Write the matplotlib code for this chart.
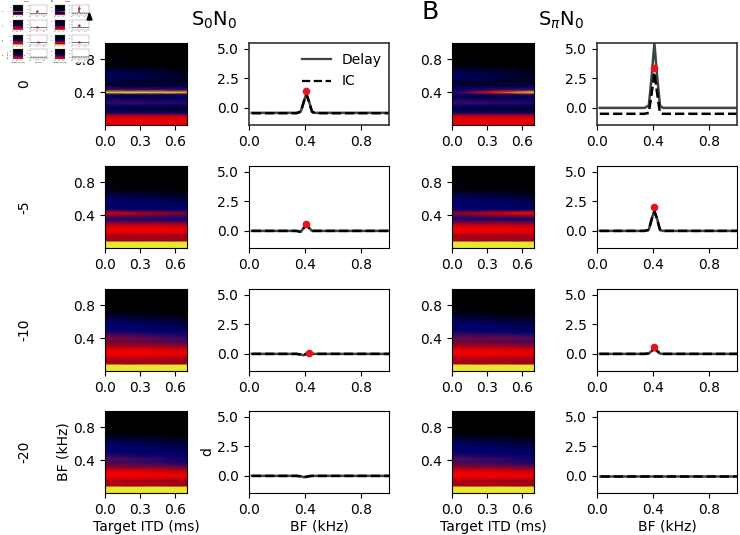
import matplotlib
matplotlib.use('Agg')
import matplotlib.pyplot as plt
import numpy as np
from matplotlib.colors import LinearSegmentedColormap
from matplotlib.patches import Polygon, Rectangle

# heatmap grids
bf_rows = [0.0, 0.04, 0.075, 0.09, 0.12, 0.15, 0.19, 0.23, 0.27, 0.31, 0.35, 0.375, 0.40, 0.43, 0.47, 0.51, 0.56, 0.62, 0.7, 0.8, 1.0]
itd_cols = [0.0, 0.35, 0.7]

# each row is one BF, columns are the ITDs above
s0_0 = [[.74, .74, .74], [.76, .76, .76], [.76, .76, .76], [.72, .72, .72], [.62, .62, .60], [.25, .25, .22],
        [.12, .10, .08], [.20, .16, .14], [.36, .34, .30], [.28, .24, .24], [.15, .10, .15], [.25, .25, .25],
        [.98, .98, .94], [.42, .42, .38], [.16, .14, .18], [.08, .06, .08], [.14, .12, .06], [.19, .14, .06],
        [.05, .03, .01], [.01, 0, 0], [0, 0, 0]]
s0_5 = [[1, 1, 1], [1, 1, 1], [1, 1, 1], [.58, .58, .56], [.62, .62, .60], [.58, .56, .55],
        [.76, .76, .74], [.78, .78, .76], [.72, .72, .68], [.50, .50, .48], [.30, .28, .26], [.38, .36, .30],
        [.52, .46, .34], [.76, .62, .50], [.22, .20, .22], [.20, .18, .17], [.20, .19, .15], [.17, .14, .08],
        [.04, .03, .01], [0, 0, 0], [0, 0, 0]]
s0_10 = [[1, 1, 1], [1, 1, 1], [1, 1, 1], [.58, .58, .56], [.62, .62, .60], [.60, .58, .56],
         [.76, .76, .74], [.78, .78, .76], [.72, .72, .68], [.60, .58, .54], [.50, .46, .40], [.46, .42, .34],
         [.52, .48, .34], [.44, .38, .30], [.30, .24, .22], [.21, .19, .17], [.20, .18, .14], [.17, .13, .07],
         [.04, .02, .01], [0, 0, 0], [0, 0, 0]]
s0_20 = [[1, 1, 1], [1, 1, 1], [1, 1, 1], [.58, .58, .56], [.62, .62, .60], [.60, .58, .56],
         [.76, .76, .74], [.78, .78, .76], [.72, .72, .66], [.58, .55, .50], [.44, .40, .32], [.38, .34, .26],
         [.42, .36, .25], [.40, .32, .24], [.28, .22, .20], [.20, .19, .17], [.20, .18, .14], [.17, .13, .07],
         [.04, .02, .01], [0, 0, 0], [0, 0, 0]]
spi_0 = [[.74, .74, .74], [.76, .76, .76], [.76, .76, .76], [.72, .72, .72], [.62, .62, .60], [.25, .25, .22],
         [.12, .10, .08], [.20, .16, .14], [.36, .34, .30], [.28, .24, .24], [.15, .10, .15], [.22, .28, .34],
         [.28, .80, .98], [.20, .36, .42], [.16, .14, .18], [.08, .06, .08], [.14, .12, .06], [.19, .14, .06],
         [.05, .03, .01], [.01, 0, 0], [0, 0, 0]]
spi_5 = [[1, 1, 1], [1, 1, 1], [1, 1, 1], [.58, .58, .56], [.62, .62, .60], [.58, .56, .55],
         [.76, .76, .74], [.78, .78, .76], [.72, .72, .68], [.50, .50, .48], [.30, .28, .26], [.30, .36, .38],
         [.40, .52, .58], [.52, .70, .80], [.22, .20, .22], [.20, .18, .17], [.20, .19, .15], [.17, .14, .08],
         [.04, .03, .01], [0, 0, 0], [0, 0, 0]]
spi_10 = [[1, 1, 1], [1, 1, 1], [1, 1, 1], [.58, .58, .56], [.62, .62, .60], [.60, .58, .56],
          [.76, .76, .74], [.78, .78, .76], [.72, .72, .68], [.60, .58, .54], [.50, .46, .40], [.44, .42, .36],
          [.46, .50, .44], [.38, .40, .34], [.30, .24, .22], [.21, .19, .17], [.20, .18, .14], [.17, .13, .07],
          [.04, .02, .01], [0, 0, 0], [0, 0, 0]]

heat_cmap = LinearSegmentedColormap.from_list('heat', [(0, '#000000'), (.2, '#00006e'), (.4, '#4a0b5c'), (.58, '#a00018'),
                                                       (.78, '#f00000'), (.9, '#ff8000'), (1, '#e8e830')])

# d' curves
bf_line = [0.02, 0.34, 0.37, 0.39, 0.41, 0.43, 0.45, 0.47, 1.0]
delay_s0 = [[-.42, -.42, -.3, .5, 1.2, .5, -.3, -.42, -.42],
            [0, 0, -.08, .25, .5, .25, .0, 0, 0],
            [0, 0, -.05, -.12, .02, .03, .01, 0, 0],
            [0, 0, -.03, -.1, -.08, -.02, 0, 0, 0]]
ic_s0 = [[-.45, -.45, -.33, .45, 1.15, .45, -.33, -.45, -.45],
         [0, 0, -.08, .23, .48, .23, .0, 0, 0],
         [0, 0, -.05, -.12, .02, .03, .01, 0, 0],
         [0, 0, -.03, -.1, -.08, -.02, 0, 0, 0]]
delay_spi = [[0, 0, .2, 2.6, 5.5, 2.6, .2, 0, 0],
             [0, 0, .1, 1.0, 1.75, 1.0, .1, 0, 0],
             [0, 0, .03, .25, .42, .25, .03, 0, 0],
             [0, 0, 0, 0, 0, 0, 0, 0, 0]]
ic_spi = [[-.5, -.5, -.42, 1.2, 3.0, 1.2, -.42, -.5, -.5],
          [0, 0, .08, .95, 1.65, .95, .08, 0, 0],
          [0, 0, .03, .24, .4, .24, .03, 0, 0],
          [0, 0, 0, 0, 0, 0, 0, 0, 0]]
peak_x_s0 = [0.41, 0.41, 0.43, None]
peak_y_s0 = [1.45, 0.6, 0.1, None]
peak_x_spi = [0.41, 0.41, 0.41, None]
peak_y_spi = [3.4, 2.0, 0.55, None]

snr_labels = ['0', '-5', '-10', '-20']
heat_s0 = [s0_0, s0_5, s0_10, s0_20]
heat_spi = [spi_0, spi_5, spi_10, s0_20]

W, H = 740., 535.
row_tops = [43, 166, 289, 411]
row_h = 82


def px_axes(fig, x0, y0, w, h, ox=0., oy=0., scale=1.):
    return fig.add_axes([(ox + x0 * scale) / W, 1 - (oy + (y0 + h) * scale) / H, w * scale / W, h * scale / H])


def draw_heat(ax, data):
    ax.pcolormesh(itd_cols, bf_rows, np.array(data), cmap=heat_cmap, vmin=0, vmax=1, shading='gouraud', rasterized=True)
    ax.set_xlim(0, 0.7)
    ax.set_ylim(0, 1)
    ax.set_xticks([0.0, 0.3, 0.6])
    ax.set_yticks([0.4, 0.8])


def draw_curve(ax, delay, ic, px, py, lw=1.8, ms=4.5):
    ax.plot(bf_line, delay, color='#3c4646', lw=lw, label='Delay')
    ax.plot(bf_line, ic, color='k', ls='--', lw=lw, label='IC')
    if px is not None:
        ax.plot([px], [py], 'o', color='#e8141c', ms=ms, zorder=5)
    ax.set_xlim(0, 1)
    ax.set_ylim(-1.45, 5.5)
    ax.set_xticks([0.0, 0.4, 0.8])
    ax.set_yticks([0.0, 2.5, 5.0])


def draw_all(fig, ox=0., oy=0., scale=1.):
    mini = scale < 1
    for i in range(4):
        top = row_tops[i]
        a1 = px_axes(fig, 105, top, 82, row_h, ox, oy, scale)
        a2 = px_axes(fig, 249, top, 140, row_h, ox, oy, scale)
        a3 = px_axes(fig, 452, top, 82, row_h, ox, oy, scale)
        a4 = px_axes(fig, 597, top, 140, row_h, ox, oy, scale)
        lw = 0.3 if mini else 1.8
        ms = 0.7 if mini else 4.5
        draw_heat(a1, heat_s0[i])
        draw_heat(a3, heat_spi[i])
        draw_curve(a2, delay_s0[i], ic_s0[i], peak_x_s0[i], peak_y_s0[i], lw, ms)
        draw_curve(a4, delay_spi[i], ic_spi[i], peak_x_spi[i], peak_y_spi[i], lw, ms)
        for a in (a1, a2, a3, a4):
            if mini:
                a.tick_params(labelsize=1.1, length=0.5, width=0.2, pad=0.3, labelcolor='#666666', color='#666666')
                for s in a.spines.values():
                    s.set_linewidth(0.25)
                    s.set_color('#777777')
        if i == 0 and not mini:
            for a in (a2, a4):
                for s in a.spines.values():
                    s.set_linewidth(1.2)
                    s.set_color('#333333')
            leg = a2.legend(loc='upper left', frameon=False, fontsize=10, handlelength=2.1, handletextpad=0.75,
                            bbox_to_anchor=(0.31, 1.0), borderaxespad=0.3, labelspacing=0.55)
            for h in leg.get_lines():
                h.set_linewidth(1.6)
        if i == 3:
            fs = 1.3 if mini else 10
            lp = 0.3 if mini else 2
            a1.set_xlabel('Target ITD (ms)', fontsize=fs, labelpad=lp)
            a2.set_xlabel('BF (kHz)', fontsize=fs, labelpad=lp)
            a3.set_xlabel('Target ITD (ms)', fontsize=fs, labelpad=lp)
            a4.set_xlabel('BF (kHz)', fontsize=fs, labelpad=lp)
            a1.set_ylabel('BF (kHz)', fontsize=fs, labelpad=lp)
            a2.set_ylabel('d', fontsize=fs, labelpad=lp)
        fig.text((ox + 24 * scale) / W, 1 - (oy + (top + row_h / 2) * scale) / H, snr_labels[i], rotation=90,
                 ha='center', va='center', fontsize=1.3 if mini else 10)
    fs = 1.6 if mini else 14
    fig.text((ox + 214 * scale) / W, 1 - (oy + 20 * scale) / H, 'S$_0$N$_0$', ha='center', va='center', fontsize=fs)
    fig.text((ox + 561 * scale) / W, 1 - (oy + 20 * scale) / H, 'S$_\\pi$N$_0$', ha='center', va='center', fontsize=fs)
    fig.text((ox + 430 * scale) / W, 1 - (oy + 12 * scale) / H, 'B', ha='center', va='center', fontsize=2 if mini else 18)


fig = plt.figure(figsize=(7.4, 5.35), dpi=100)
draw_all(fig)

# the small copy of the figure sitting in the top left corner
fig.add_artist(Rectangle((0, 1 - 62 / H), 85 / W, 62 / H, transform=fig.transFigure, color='white', zorder=3))
n_before = len(fig.axes)
draw_all(fig, ox=0.5, oy=0., scale=0.12)
for a in fig.axes[n_before:]:
    a.set_zorder(4)
for t in fig.texts[-7:]:
    t.set_zorder(5)
fig.add_artist(Polygon([[87 / W, 1 - 20 / H], [92 / W, 1 - 20 / H], [89.5 / W, 1 - 13 / H]],
                       transform=fig.transFigure, color='k', zorder=5))

fig.savefig('out.png', dpi=100)
